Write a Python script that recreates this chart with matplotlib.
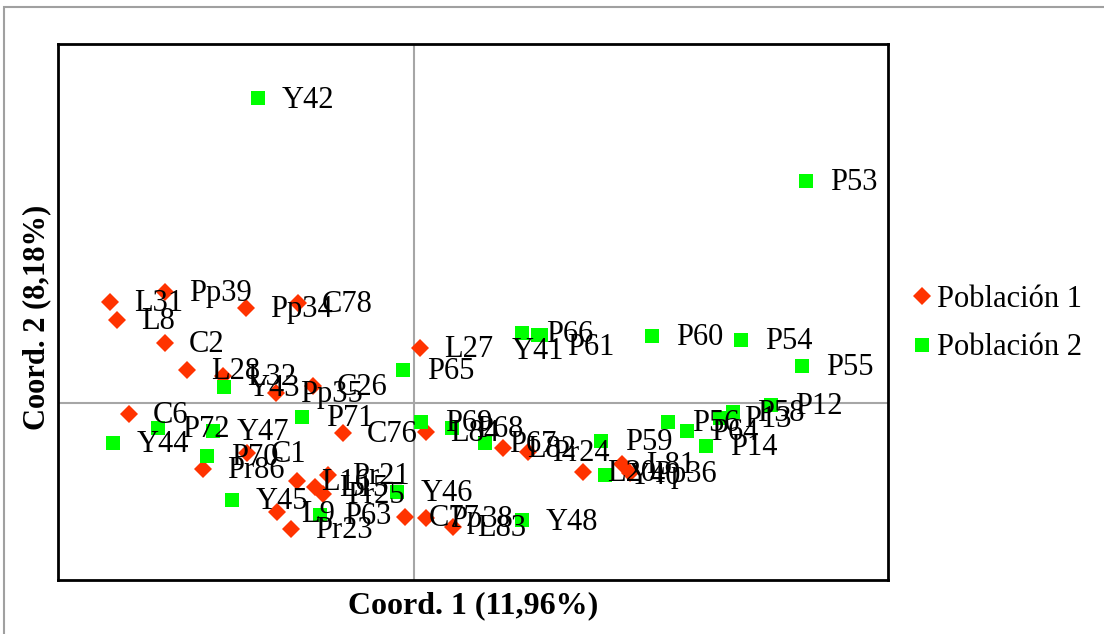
import matplotlib
matplotlib.use('Agg')
import matplotlib.pyplot as plt
from matplotlib.patches import Rectangle

plt.rcParams['font.family'] = ['Liberation Serif', 'DejaVu Serif']

# %% datos (coordenadas del PCoA)
pob1_nombres = ['L31', 'Pp39', 'L8', 'Pp34', 'C78', 'C2', 'L28', 'L32', 'Pp35', 'C26',
                'C6', 'C76', 'C1', 'Pr86', 'L16', 'L15', 'Pr25', 'Pr21', 'L9', 'Pr23',
                'C77', 'Pp38', 'L83', 'L27', 'L84', 'L82', 'Pr24', 'L20', 'L81', 'Pp36']
pob1_x = [-3.04, -2.49, -2.97, -1.68, -1.16, -2.49, -2.27, -1.91, -1.38, -1.01,
          -2.85, -0.71, -1.67, -2.11, -1.17, -0.99, -0.91, -0.86, -1.37, -1.23,
          -0.09, 0.12, 0.39, 0.06, 0.12, 0.89, 1.14, 1.69, 2.08, 2.16]
pob1_y = [1.01, 1.11, 0.83, 0.95, 1.00, 0.60, 0.33, 0.27, 0.10, 0.17,
          -0.11, -0.30, -0.50, -0.66, -0.78, -0.84, -0.91, -0.72, -1.09, -1.26,
          -1.14, -1.15, -1.24, 0.55, -0.29, -0.45, -0.49, -0.69, -0.61, -0.70]

pob2_nombres = ['Y42', 'P53', 'Y43', 'P71', 'P72', 'Y47', 'Y44', 'P70', 'Y45', 'P63',
                'Y46', 'Y48', 'P65', 'P66', 'Y41', 'P61', 'P60', 'P54', 'P55', 'P69',
                'P68', 'P67', 'P59', 'Y40', 'P56', 'P64', 'P14', 'P13', 'P58', 'P12']
pob2_x = [-1.56, 3.92, -1.90, -1.12, -2.56, -2.01, -3.01, -2.07, -1.82, -0.94,
          -0.17, 1.08, -0.11, 1.08, 1.24, 1.27, 2.38, 3.27, 3.88, 0.07,
          0.38, 0.71, 1.87, 1.91, 2.54, 2.73, 2.92, 3.06, 3.19, 3.57]
pob2_y = [3.05, 2.22, 0.16, -0.14, -0.25, -0.28, -0.40, -0.53, -0.97, -1.12,
          -0.89, -1.17, 0.33, 0.70, 0.68, 0.68, 0.67, 0.63, 0.37, -0.19,
          -0.25, -0.40, -0.38, -0.72, -0.19, -0.28, -0.43, -0.15, -0.09, -0.02]

# etiquetas movidas a mano (offset en pixeles, alineacion)
etiquetas_mov = {'Y41': (0, -17, 'center'), 'P61': (26, -13, 'left')}

rojo = '#FF3300'
verde = '#00FF00'

fig = plt.figure(figsize=(11.04, 6.34), dpi=100)
ax = fig.add_axes([58 / 1104, 1 - 580 / 634, 830 / 1104, 536 / 634])

ax.axhline(0, color='#A6A6A6', lw=1.5, zorder=1)
ax.axvline(0, color='#A6A6A6', lw=1.5, zorder=1)

ax.plot(pob1_x, pob1_y, 'D', color=rojo, ms=9, mew=0, label='Población 1', zorder=3)
ax.plot(pob2_x, pob2_y, 's', color=verde, ms=10, mew=0, label='Población 2', zorder=3)


def poner_etiquetas(nombres, xs, ys):
    for n, x, y in zip(nombres, xs, ys):
        dx, dy, ha = etiquetas_mov.get(n, (24, -2, 'left'))
        ax.annotate(n, (x, y), xytext=(dx, dy), textcoords='offset pixels',
                    ha=ha, va='center', fontsize=22, zorder=5)


poner_etiquetas(pob1_nombres, pob1_x, pob1_y)
poner_etiquetas(pob2_nombres, pob2_x, pob2_y)

ax.set_xlim(-3.56, 4.74)
ax.set_ylim(-1.77, 3.59)
ax.set_xticks([])
ax.set_yticks([])
for s in ax.spines.values():
    s.set_linewidth(2)
    s.set_color('black')

ax.set_xlabel('Coord. 1 (11,96%)', fontsize=23, fontweight='bold', labelpad=8)
ax.set_ylabel('Coord. 2 (8,18%)', fontsize=22, fontweight='bold')
ax.yaxis.set_label_coords(-0.008, 0.49)

ax.legend(loc='center left', bbox_to_anchor=(913 / 1104, 1 - 323.5 / 634),
          bbox_transform=fig.transFigure, frameon=False, fontsize=22,
          handlelength=0.6, handletextpad=0.2, labelspacing=0.65,
          borderpad=0, borderaxespad=0, markerscale=1.0)

# borde exterior gris
fig.patches.append(Rectangle((4 / 1104, -0.1), 2, 1.1 - 7 / 634, transform=fig.transFigure,
                             fill=False, edgecolor='#A0A0A0', lw=1.5))

fig.savefig('out.png', dpi=100)
